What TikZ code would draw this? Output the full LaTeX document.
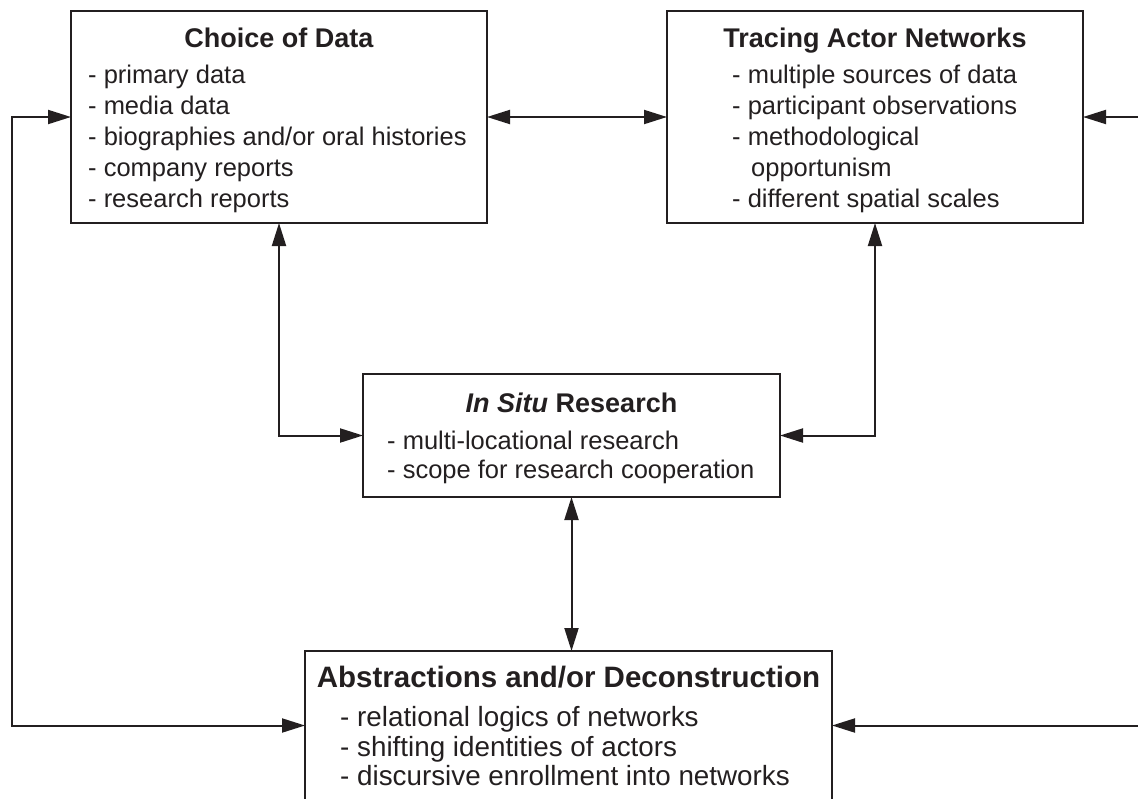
\documentclass[tikz,border=0pt]{standalone}
\usepackage{fontspec}
\setmainfont{Liberation Sans}
\usetikzlibrary{arrows.meta}
\definecolor{ink}{HTML}{231F20}
\tikzset{
  box/.style={draw=ink, line width=2pt, rectangle, inner sep=0pt, outer sep=0pt},
  ttl/.style={text=ink, inner sep=0pt, anchor=base, font=\fontsize{27}{32}\selectfont\bfseries},
  item/.style={text=ink, inner sep=0pt, anchor=base west, font=\fontsize{25.5}{30}\selectfont},
  bigttl/.style={ttl, font=\fontsize{29.5}{34}\selectfont\bfseries},
  bigitem/.style={item, font=\fontsize{27.8}{32}\selectfont},
  link/.style={draw=ink, line width=2pt},
  tip/.tip={Triangle[length=23pt, width=14pt]},
}
\begin{document}
\begin{tikzpicture}[x=1pt, y=-1pt]
\useasboundingbox (0,0) rectangle (1138,798);
\clip (0,0) rectangle (1138,798);

% boxes
\node[box, minimum width=416pt, minimum height=212pt] (choice) at (279,117) {};
\node[box, minimum width=416pt, minimum height=212pt] (tracing) at (875,117) {};
\node[box, minimum width=417pt, minimum height=123pt] (insitu) at (571.5,435.5) {};
\node[box, minimum width=527pt, minimum height=149pt] (abstr) at (568.5,725.5) {};

% Choice of Data
\node[ttl] (choice-t) at (279,47) {Choice of Data};
\foreach \t [count=\i] in {primary data, media data, biographies and/or oral histories, company reports, research reports}
  \node[item] (choice-\i) at (88,{83+31*(\i-1)}) {- \t};

% Tracing Actor Networks
\node[ttl] (tracing-t) at (875,47) {Tracing Actor Networks};
\node[item] (tracing-1) at (732,83) {- multiple sources of data};
\node[item] (tracing-2) at (732,114) {- participant observations};
\node[item] (tracing-3) at (732,145) {- methodological};
\node[item] (tracing-4) at (751,176) {opportunism};
\node[item] (tracing-5) at (732,207) {- different spatial scales};

% In Situ Research
\node[ttl] (insitu-t) at (571.5,412) {{\itshape In Situ} Research};
\node[item] (insitu-1) at (387,449) {- multi-locational research};
\node[item] (insitu-2) at (387,478) {- scope for research cooperation};

% Abstractions and/or Deconstruction
\node[bigttl] (abstr-t) at (568.5,687) {Abstractions and/or Deconstruction};
\node[bigitem] (abstr-1) at (340,726) {- relational logics of networks};
\node[bigitem] (abstr-2) at (340,756) {- shifting identities of actors};
\node[bigitem] (abstr-3) at (340,785) {- discursive enrollment into networks};

% loose ends of the feedback loops
\coordinate (lt) at (12,117);
\coordinate (lb) at (12,725.5);
\coordinate (rt) at (1138,117);
\coordinate (rb) at (1138,725.5);

% connectors
\draw[link, {tip}-{tip}] (choice.east) -- (tracing.west);
\draw[link, {tip}-{tip}] (choice.south) |- (insitu.west);
\draw[link, {tip}-{tip}] (tracing.south) |- (insitu.east);
\draw[link, {tip}-{tip}] (insitu.south) -- (insitu.south |- abstr.north);
\draw[link, {tip}-{tip}] (choice.west) -- (lt) -- (lb) -- (abstr.west);
\draw[link, -{tip}] (rt) -- (tracing.east);
\draw[link, -{tip}] (rb) -- (abstr.east);
\end{tikzpicture}
\end{document}
